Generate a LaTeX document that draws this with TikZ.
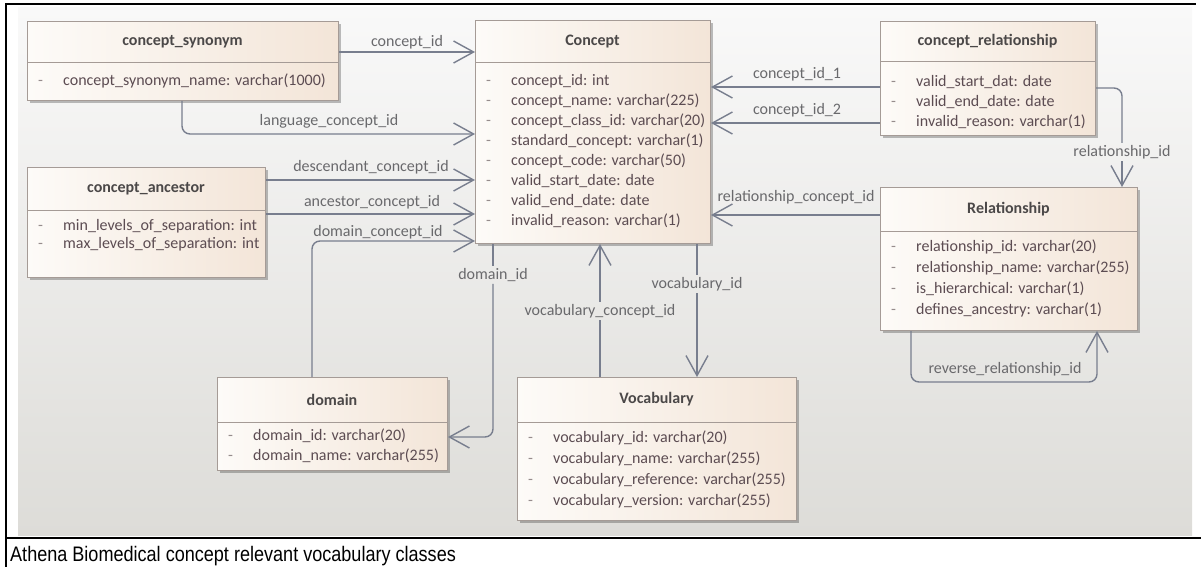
\documentclass[tikz,border=0pt]{standalone}
\usepackage{fontspec}
\usepackage{graphicx}
\setmainfont{Carlito}
\newfontfamily\capfont{Liberation Sans}
\usetikzlibrary{arrows.meta,shadows,calc}
\definecolor{boxc}{RGB}{165,155,150}
\definecolor{boxl}{RGB}{253,251,248}
\definecolor{boxr}{RGB}{243,229,216}
\definecolor{titc}{RGB}{75,72,72}
\definecolor{attc}{RGB}{92,76,82}
\definecolor{dashc}{RGB}{150,140,140}
\definecolor{connc}{RGB}{120,126,142}
\definecolor{lblc}{RGB}{105,105,108}
\definecolor{bgtop}{RGB}{249,249,249}
\definecolor{bgbot}{RGB}{221,220,216}
\tikzset{
  umlbox/.style={draw=boxc, line width=1pt, left color=boxl, right color=boxr, inner sep=0pt, anchor=north west,
    drop shadow={shadow xshift=2.5pt, shadow yshift=-2.5pt, fill=black, opacity=0.25}},
  divline/.style={draw=boxc, line width=1pt},
  titletext/.style={font=\bfseries\fontsize{16}{18}\selectfont, text=titc, inner sep=0pt},
  attrtext/.style={font=\fontsize{16}{18}\selectfont, text=attc, anchor=west, inner sep=0pt, text height=11pt, text depth=3.5pt},
  dashtext/.style={font=\fontsize{16}{18}\selectfont, text=dashc, anchor=west, inner sep=0pt, text height=11pt, text depth=3.5pt},
  lbl/.style={font=\fontsize{16}{18}\selectfont, text=lblc, inner sep=2pt},
  conn/.style={draw=connc, line width=1.4pt, rounded corners=8pt},
  arr/.style={-{Straight Barb[length=20pt,width=22pt,line width=1.4pt]}}
}
\newcommand\attrrow[4]{\node[dashtext] (#1d) at (#2+11,#3) {-}; \node[attrtext] (#1) at (#2+36,#3) {#4};}
\begin{document}
\begin{tikzpicture}[x=1pt,y=-1pt]
\useasboundingbox (0,0) rectangle (1201,567);
% background
\shade[top color=bgtop, bottom color=bgbot] (18,8) rectangle (1192,535);
% frame
\draw[line width=2pt] (6,567) -- (6,4) -- (1196,4);
\draw[line width=2pt] (6,538) -- (1201,538);

% concept_synonym
\node[umlbox, minimum width=311pt, minimum height=79pt] (syn) at (27,21) {};
\draw[divline] (syn.west |- 0,63) -- (syn.east |- 0,63);
\node[titletext] (synT) at (182.5,42) {concept\_synonym};
\attrrow{syn1}{27}{82}{concept\_synonym\_name: varchar(1000)}

% concept_ancestor
\node[umlbox, minimum width=238pt, minimum height=110pt] (anc) at (27,167) {};
\draw[divline] (anc.west |- 0,210) -- (anc.east |- 0,210);
\node[titletext] (ancT) at (146,188.5) {concept\_ancestor};
\attrrow{anc1}{27}{227}{min\_levels\_of\_separation: int}
\attrrow{anc2}{27}{245}{max\_levels\_of\_separation: int}

% Concept
\node[umlbox, minimum width=235pt, minimum height=223pt] (C) at (475,20) {};
\draw[divline] (C.west |- 0,63) -- (C.east |- 0,63);
\node[titletext] (CT) at (592.5,41.5) {Concept};
\attrrow{c1}{475}{82}{concept\_id: int}
\attrrow{c2}{475}{102}{concept\_name: varchar(225)}
\attrrow{c3}{475}{122}{concept\_class\_id: varchar(20)}
\attrrow{c4}{475}{142}{standard\_concept: varchar(1)}
\attrrow{c5}{475}{162}{concept\_code: varchar(50)}
\attrrow{c6}{475}{182}{valid\_start\_date: date}
\attrrow{c7}{475}{202}{valid\_end\_date: date}
\attrrow{c8}{475}{222}{invalid\_reason: varchar(1)}

% concept_relationship
\node[umlbox, minimum width=215pt, minimum height=114pt] (cr) at (880,21) {};
\draw[divline] (cr.west |- 0,62) -- (cr.east |- 0,62);
\node[titletext] (crT) at (987.5,41.5) {concept\_relationship};
\attrrow{cr1}{880}{83}{valid\_start\_dat: date}
\attrrow{cr2}{880}{103}{valid\_end\_date: date}
\attrrow{cr3}{880}{123}{invalid\_reason: varchar(1)}

% Relationship
\node[umlbox, minimum width=257pt, minimum height=143pt] (R) at (880,187) {};
\draw[divline] (R.west |- 0,231) -- (R.east |- 0,231);
\node[titletext] (RT) at (1008.5,209) {Relationship};
\attrrow{r1}{880}{248}{relationship\_id: varchar(20)}
\attrrow{r2}{880}{269}{relationship\_name: varchar(255)}
\attrrow{r3}{880}{290}{is\_hierarchical: varchar(1)}
\attrrow{r4}{880}{311}{defines\_ancestry: varchar(1)}

% domain
\node[umlbox, minimum width=230pt, minimum height=93pt] (dom) at (217,377) {};
\draw[divline] (dom.west |- 0,422) -- (dom.east |- 0,422);
\node[titletext] (domT) at (332,399.5) {domain};
\attrrow{d1}{217}{437}{domain\_id: varchar(20)}
\attrrow{d2}{217}{457}{domain\_name: varchar(255)}

% Vocabulary
\node[umlbox, minimum width=279pt, minimum height=143pt] (V) at (517,377) {};
\draw[divline] (V.west |- 0,422) -- (V.east |- 0,422);
\node[titletext] (VT) at (656.5,399.5) {Vocabulary};
\attrrow{v1}{517}{439}{vocabulary\_id: varchar(20)}
\attrrow{v2}{517}{460}{vocabulary\_name: varchar(255)}
\attrrow{v3}{517}{481}{vocabulary\_reference: varchar(255)}
\attrrow{v4}{517}{502}{vocabulary\_version: varchar(255)}

% labels
\node[lbl] (lcid) at (407,42) {concept\_id};
\node[lbl] (llang) at (329,121) {language\_concept\_id};
\node[lbl] (ldesc) at (371,167) {descendant\_concept\_id};
\node[lbl] (lanc) at (372,202) {ancestor\_concept\_id};
\node[lbl] (ldcid) at (378,232) {domain\_concept\_id};
\node[lbl] (ldomid) at (493,275) {domain\_id};
\node[lbl] (lvc) at (600,311) {vocabulary\_concept\_id};
\node[lbl] (lvid) at (697,284) {vocabulary\_id};
\node[lbl] (lc1) at (797,74) {concept\_id\_1};
\node[lbl] (lc2) at (797,110) {concept\_id\_2};
\node[lbl] (lrid) at (1122,152) {relationship\_id};
\node[lbl] (lrcid) at (796,197) {relationship\_concept\_id};
\node[lbl] (lrev) at (1005,369) {reverse\_relationship\_id};

% connectors
\draw[conn,arr] (syn.east |- 0,52) -- (C.west |- 0,52);
\draw[conn,arr] (syn.south -| 182,0) |- (C.west |- 0,134);
\draw[conn,arr] (anc.east |- 0,180) -- (C.west |- 0,180);
\draw[conn,arr] (anc.east |- 0,214) -- (C.west |- 0,214);
\draw[conn,arr] (dom.north -| 312,0) |- (C.west |- 0,241);
\draw[conn] (C.south -| 493,0) -- (ldomid.north);
\draw[conn,arr] (ldomid.south) |- (dom.east |- 0,437);
\draw[conn] (V.north -| 600,0) -- (lvc.south);
\draw[conn,arr] (lvc.north) -- (C.south -| 600,0);
\draw[conn] (C.south -| 697,0) -- (lvid.north);
\draw[conn,arr] (lvid.south) -- (V.north -| 697,0);
\draw[conn,arr] (cr.west |- 0,87) -- (C.east |- 0,87);
\draw[conn,arr] (cr.west |- 0,123) -- (C.east |- 0,123);
\draw[conn] (cr.east |- 0,88) -| (lrid.north);
\draw[conn,arr] (lrid.south) -- (R.north -| 1122,0);
\draw[conn,arr] (R.west |- 0,215) -- (C.east |- 0,215);
\coordinate (rrb) at (1004,382);
\draw[conn,arr] (R.south -| 911,0) |- (rrb) -| (R.south -| 1097,0);

% caption
\node[font=\capfont\fontsize{21}{24}\selectfont, anchor=base west, inner sep=0pt] (cap) at (10,561) {\scalebox{0.86}[1]{Athena Biomedical concept relevant vocabulary classes}};
\end{tikzpicture}
\end{document}
